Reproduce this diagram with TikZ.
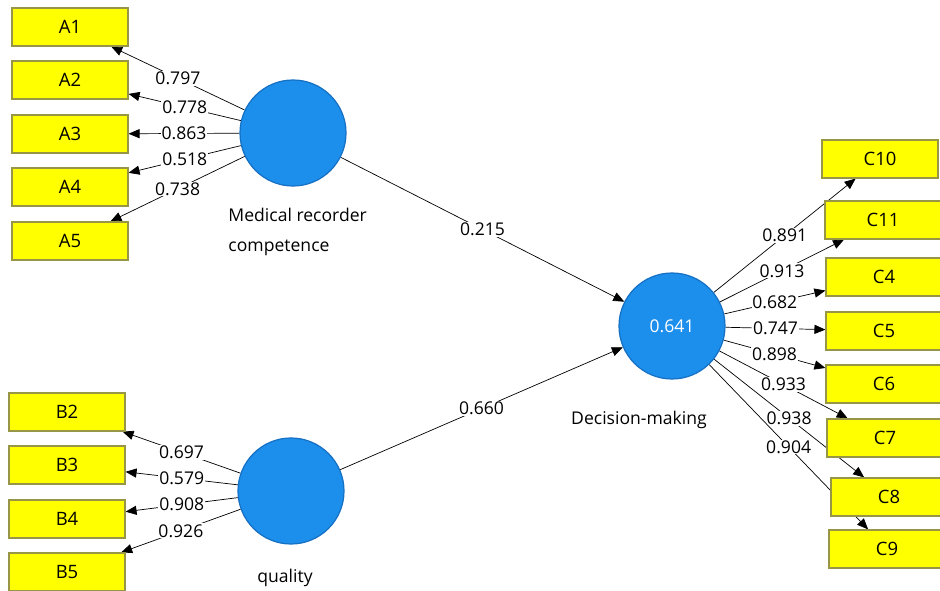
\documentclass[tikz,border=0pt]{standalone}
\usepackage{fontspec}
\setmainfont{Open Sans}
\usetikzlibrary{shapes,arrows,backgrounds}

\definecolor{lvblue}{RGB}{28,142,235}
\definecolor{lvedge}{RGB}{22,112,196}
\definecolor{mvyellow}{RGB}{255,255,0}
\definecolor{mvedge}{RGB}{150,150,70}

\begin{document}
\begin{tikzpicture}[x=0.02cm, y=-0.02cm, line width=0.7pt, >=triangle 45,
  item/.style={draw=mvedge, fill=mvyellow, minimum width=2.32cm, minimum height=0.76cm, inner sep=0pt, font=\fontsize{10.5}{12}\selectfont},
  latent/.style={circle, draw=lvedge, fill=lvblue, minimum size=2.12cm, inner sep=0pt, text=white, font=\fontsize{10}{12}\selectfont},
  coef/.style={fill=white, inner sep=0.5pt, font=\fontsize{10}{12}\selectfont},
  lvname/.style={font=\fontsize{10}{17}\selectfont}]
%%%
\useasboundingbox (0,0) rectangle (940,591);

% latent variables
\node[latent] (MRC) at (293,133) {};
\node[latent] (Q) at (291,491) {};
\node[latent] (DM) at (672,326) {0.641};

\node[lvname, align=left, anchor=west] (MRC-name) at (222,232) {Medical recorder\\competence};
\node[lvname] (Q-name) at (285,578) {quality};
\node[lvname] (DM-name) at (639,420) {Decision-making};

% indicators A
\node[item] (A1) at (70,27) {A1};
\node[item] (A2) at (70,80) {A2};
\node[item] (A3) at (70,134) {A3};
\node[item] (A4) at (70,187) {A4};
\node[item] (A5) at (70,241) {A5};

% indicators B
\node[item] (B2) at (67,412) {B2};
\node[item] (B3) at (67,465) {B3};
\node[item] (B4) at (67,519) {B4};
\node[item] (B5) at (67,572) {B5};

% indicators C
\node[item] (C10) at (880,159) {C10};
\node[item] (C11) at (883,220) {C11};
\node[item] (C4)  at (884,277) {C4};
\node[item] (C5)  at (884,331) {C5};
\node[item] (C6)  at (884,384) {C6};
\node[item] (C7)  at (885,438) {C7};
\node[item] (C8)  at (889,497) {C8};
\node[item] (C9)  at (887,549) {C9};

\begin{scope}[on background layer]
% loadings
  \draw[->] (MRC) -- node[coef] {0.797} (A1);
  \draw[->] (MRC) -- node[coef] {0.778} (A2);
  \draw[->] (MRC) -- node[coef] {0.863} (A3);
  \draw[->] (MRC) -- node[coef] {0.518} (A4);
  \draw[->] (MRC) -- node[coef] {0.738} (A5);

  \draw[->] (Q) -- node[coef] {0.697} (B2);
  \draw[->] (Q) -- node[coef] {0.579} (B3);
  \draw[->] (Q) -- node[coef] {0.908} (B4);
  \draw[->] (Q) -- node[coef] {0.926} (B5);

  \draw[->] (DM) -- node[coef] {0.891} (C10);
  \draw[->] (DM) -- node[coef] {0.913} (C11);
  \draw[->] (DM) -- node[coef] {0.682} (C4);
  \draw[->] (DM) -- node[coef] {0.747} (C5);
  \draw[->] (DM) -- node[coef] {0.898} (C6);
  \draw[->] (DM) -- node[coef] {0.933} (C7);
  \draw[->] (DM) -- node[coef] {0.938} (C8);
  \draw[->] (DM) -- node[coef] {0.904} (C9);

% path coefficients
  \draw[->] (MRC) -- node[coef] {0.215} (DM);
  \draw[->] (Q) -- node[coef] {0.660} (DM);
\end{scope}
%%%
\end{tikzpicture}
\end{document}
